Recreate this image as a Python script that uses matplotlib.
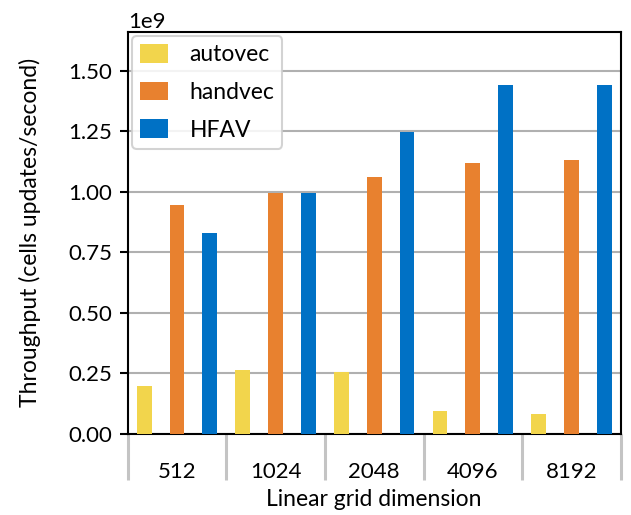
import numpy as np
from matplotlib import pyplot as plt

sizes = ['512', '1024', '2048', '4096', '8192']
autovec = [0.198e9, 0.264e9, 0.257e9, 0.095e9, 0.083e9]
handvec = [0.946e9, 0.997e9, 1.062e9, 1.120e9, 1.132e9]
hfav = [0.830e9, 0.997e9, 1.249e9, 1.442e9, 1.442e9]

series = [('autovec', autovec, '#F2D54C'),
          ('handvec', handvec, '#E8812F'),
          ('HFAV', hfav, '#0071C5')]

plt.rcParams['font.family'] = ['Lato', 'DejaVu Sans']
plt.rcParams['font.size'] = 16

fig = plt.figure(figsize=(6.31, 5.15), dpi=100)
ax = fig.add_axes([0.2024, 0.1573, 0.7813, 0.7811])

x = np.arange(len(sizes))
width = 0.15
offsets = [-1/3, 0, 1/3]
for (name, vals, col), off in zip(series, offsets):
    ax.bar(x + off, vals, width, color=col, label=name, zorder=3)

ax.set_xlim(-0.5, len(sizes) - 0.5)
ax.set_ylim(0, 1.662e9)
ax.set_yticks(np.arange(0, 1.51e9, 0.25e9))
ax.yaxis.grid(True, color='#b0b0b0', linewidth=1.5, zorder=0)
ax.set_axisbelow(True)
ax.yaxis.get_offset_text().set_fontsize(16)

# group labels sit between long gray separators
ax.set_xticks(x)
ax.set_xticklabels(sizes)
ax.set_xticks(np.arange(-0.5, len(sizes), 1.0), minor=True)
ax.tick_params(axis='x', which='major', length=0, pad=20)
ax.tick_params(axis='x', which='minor', length=33, width=2.2, color='#c4c4c4')
ax.tick_params(axis='y', length=6, width=1.5, color='black', pad=5)

for s in ax.spines.values():
    s.set_linewidth(1.5)

ax.set_xlabel('Linear grid dimension', fontsize=16.5, labelpad=3)
ax.set_ylabel('Throughput (cells updates/second)', fontsize=16.5, labelpad=20)

leg = ax.legend(loc='upper left', fontsize=16.5, handlelength=1.2, handleheight=0.85,
                borderpad=0.35, labelspacing=0.72, handletextpad=0.95,
                borderaxespad=0.2, framealpha=0.85, edgecolor='#cccccc')
leg.get_frame().set_linewidth(1.5)

fig.savefig('out.png', dpi=100)
